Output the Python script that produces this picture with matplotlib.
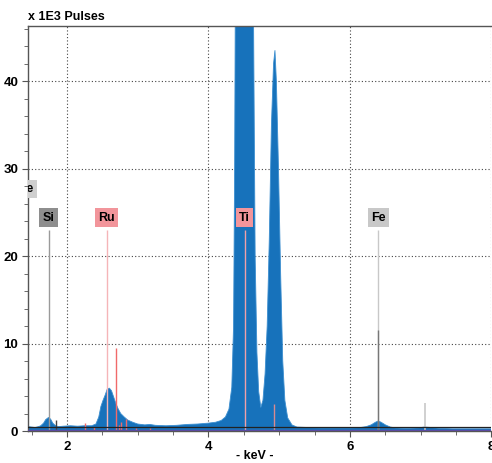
import matplotlib
matplotlib.use("Agg")
import matplotlib.pyplot as plt
from matplotlib.ticker import MultipleLocator

plt.rcParams['font.family'] = ['Liberation Sans', 'DejaVu Sans']

# spectrum (x 1000 pulses)
kev = [1.45, 1.50, 1.55, 1.60, 1.63, 1.67, 1.70, 1.74, 1.77, 1.80, 1.84, 1.88,
       1.95, 2.05, 2.15, 2.25, 2.35, 2.41, 2.45, 2.48, 2.51, 2.54, 2.57, 2.60,
       2.63, 2.66, 2.69, 2.72, 2.76, 2.81, 2.86, 2.93, 3.00, 3.10, 3.17, 3.25,
       3.40, 3.55, 3.70, 3.85, 4.00, 4.10, 4.18, 4.24, 4.29, 4.33, 4.355, 4.37,
       4.385, 4.42, 4.46, 4.51, 4.56, 4.60, 4.635, 4.66, 4.685, 4.71, 4.74, 4.77,
       4.80, 4.83, 4.86, 4.89, 4.92, 4.94, 4.96, 4.99, 5.02, 5.05, 5.08, 5.12,
       5.18, 5.25, 5.40, 5.60, 5.80, 6.00, 6.15, 6.23, 6.30, 6.36, 6.40, 6.44,
       6.50, 6.57, 6.65, 6.80, 6.96, 7.05, 7.15, 7.27, 7.45, 7.70, 8.00]
pulses = [0.5, 0.45, 0.4, 0.5, 0.6, 0.9, 1.3, 1.55, 1.35, 0.9, 0.6, 0.5,
          0.55, 0.6, 0.55, 0.6, 0.6, 0.8, 1.6, 2.8, 3.5, 4.1, 4.8, 4.9,
          4.6, 3.9, 3.2, 2.6, 2.0, 1.6, 1.25, 1.0, 0.8, 0.7, 0.75, 0.65,
          0.6, 0.65, 0.75, 0.8, 0.9, 1.0, 1.2, 1.6, 2.5, 5, 12, 30,
          60, 110, 150, 170, 150, 100, 50, 20, 9, 4.5, 2.7, 3.5,
          6.5, 12, 22, 35, 42, 43.5, 40, 30, 18, 8, 3.5, 1.5,
          0.7, 0.45, 0.4, 0.35, 0.35, 0.35, 0.4, 0.5, 0.7, 1.0, 1.15, 1.0,
          0.7, 0.45, 0.35, 0.3, 0.35, 0.45, 0.4, 0.3, 0.25, 0.25, 0.25]

# element marker lines (energy, height)
ref_kev = [1.74, 2.56, 4.51, 6.40]
ref_top = [23, 23, 23, 23]
si_kev, si_top = [1.84], [1.3]
ru_kev = [2.69, 2.25, 2.38, 2.74, 2.77, 2.83, 2.97, 3.18]
ru_top = [9.5, 0.95, 0.5, 0.7, 1.06, 1.4, 0.4, 0.4]
ti_kev, ti_top = [4.93], [3.1]
fe_kev, fe_top = [6.40, 7.06], [11.5, 3.2]

labels = ["Se", "Si", "Ru", "Ti", "Fe"]
label_kev = [1.42, 1.74, 2.56, 4.51, 6.40]
label_y = [27.7, 24.4, 24.4, 24.4, 24.4]
label_bg = ["#cfcfcf", "#8e8e8e", "#f2959b", "#f2959b", "#c8c8c8"]
ref_col = ["#9a9a9a", "#f5b5b8", "#f0a0a8", "#c8c8c8"]

fig = plt.figure(figsize=(4.92, 4.63), dpi=100)
ax = fig.add_axes([28 / 492, 32 / 463, 463.5 / 492, 405 / 463])

ax.fill_between(kev, pulses, 0, color="#1772bb", lw=0.6, edgecolor="#3d8fd0")

for x, t, c in zip(ref_kev, ref_top, ref_col):
    ax.vlines(x, 0, t, color=c, lw=1.0, zorder=3)
ax.vlines(si_kev, 0, si_top, color="#444444", lw=1.0, zorder=3)
ax.vlines(ru_kev, 0, ru_top, color="#f06a6a", lw=1.0, zorder=3)
ax.vlines(ti_kev, 0, ti_top, color="#d88a90", lw=1.0, zorder=3)
ax.vlines(fe_kev[0], 0, fe_top[0], color="#777777", lw=1.0, zorder=3)
ax.vlines(fe_kev[1], 0, fe_top[1], color="#c8c8c8", lw=1.2, zorder=3)

# baseline lines
ax.axhline(0.42, color="#222222", lw=0.9, zorder=4)
ax.axhline(0.12, color="#5a4aa0", lw=1.0, zorder=4)

for s, x, y, bg in zip(labels, label_kev, label_y, label_bg):
    ax.text(x, y, s, ha="center", va="center", fontsize=9, fontweight="bold",
            color="black", zorder=5, clip_on=True,
            bbox=dict(boxstyle="square,pad=0.25", fc=bg, ec="none"))

ax.set_xlim(1.45, 8.0)
ax.set_ylim(0, 46.3)
ax.xaxis.set_major_locator(MultipleLocator(2))
ax.xaxis.set_minor_locator(MultipleLocator(0.5))
ax.yaxis.set_major_locator(MultipleLocator(10))
ax.yaxis.set_minor_locator(MultipleLocator(2))
ax.grid(True, which="major", color="#444444", ls=(0, (1, 2)), lw=0.8)
ax.set_axisbelow(True)
ax.tick_params(which="both", direction="out", color="#555555", labelsize=9.5)
ax.tick_params(which="major", length=4, pad=3)
ax.tick_params(which="minor", length=3)
for lab in ax.get_xticklabels() + ax.get_yticklabels():
    lab.set_fontweight("bold")

for side in ["top", "left", "bottom"]:
    ax.spines[side].set_color("#555555")
    ax.spines[side].set_linewidth(1.0)
ax.spines["right"].set_visible(False)

fig.text(28 / 492, 1 - 17 / 463, "x 1E3 Pulses", ha="left", va="center",
         fontsize=9, fontweight="bold")
fig.text(255 / 492, 1 - 456 / 463, "- keV -", ha="center", va="center",
         fontsize=9, fontweight="bold")

fig.savefig("out.png", dpi=100)
